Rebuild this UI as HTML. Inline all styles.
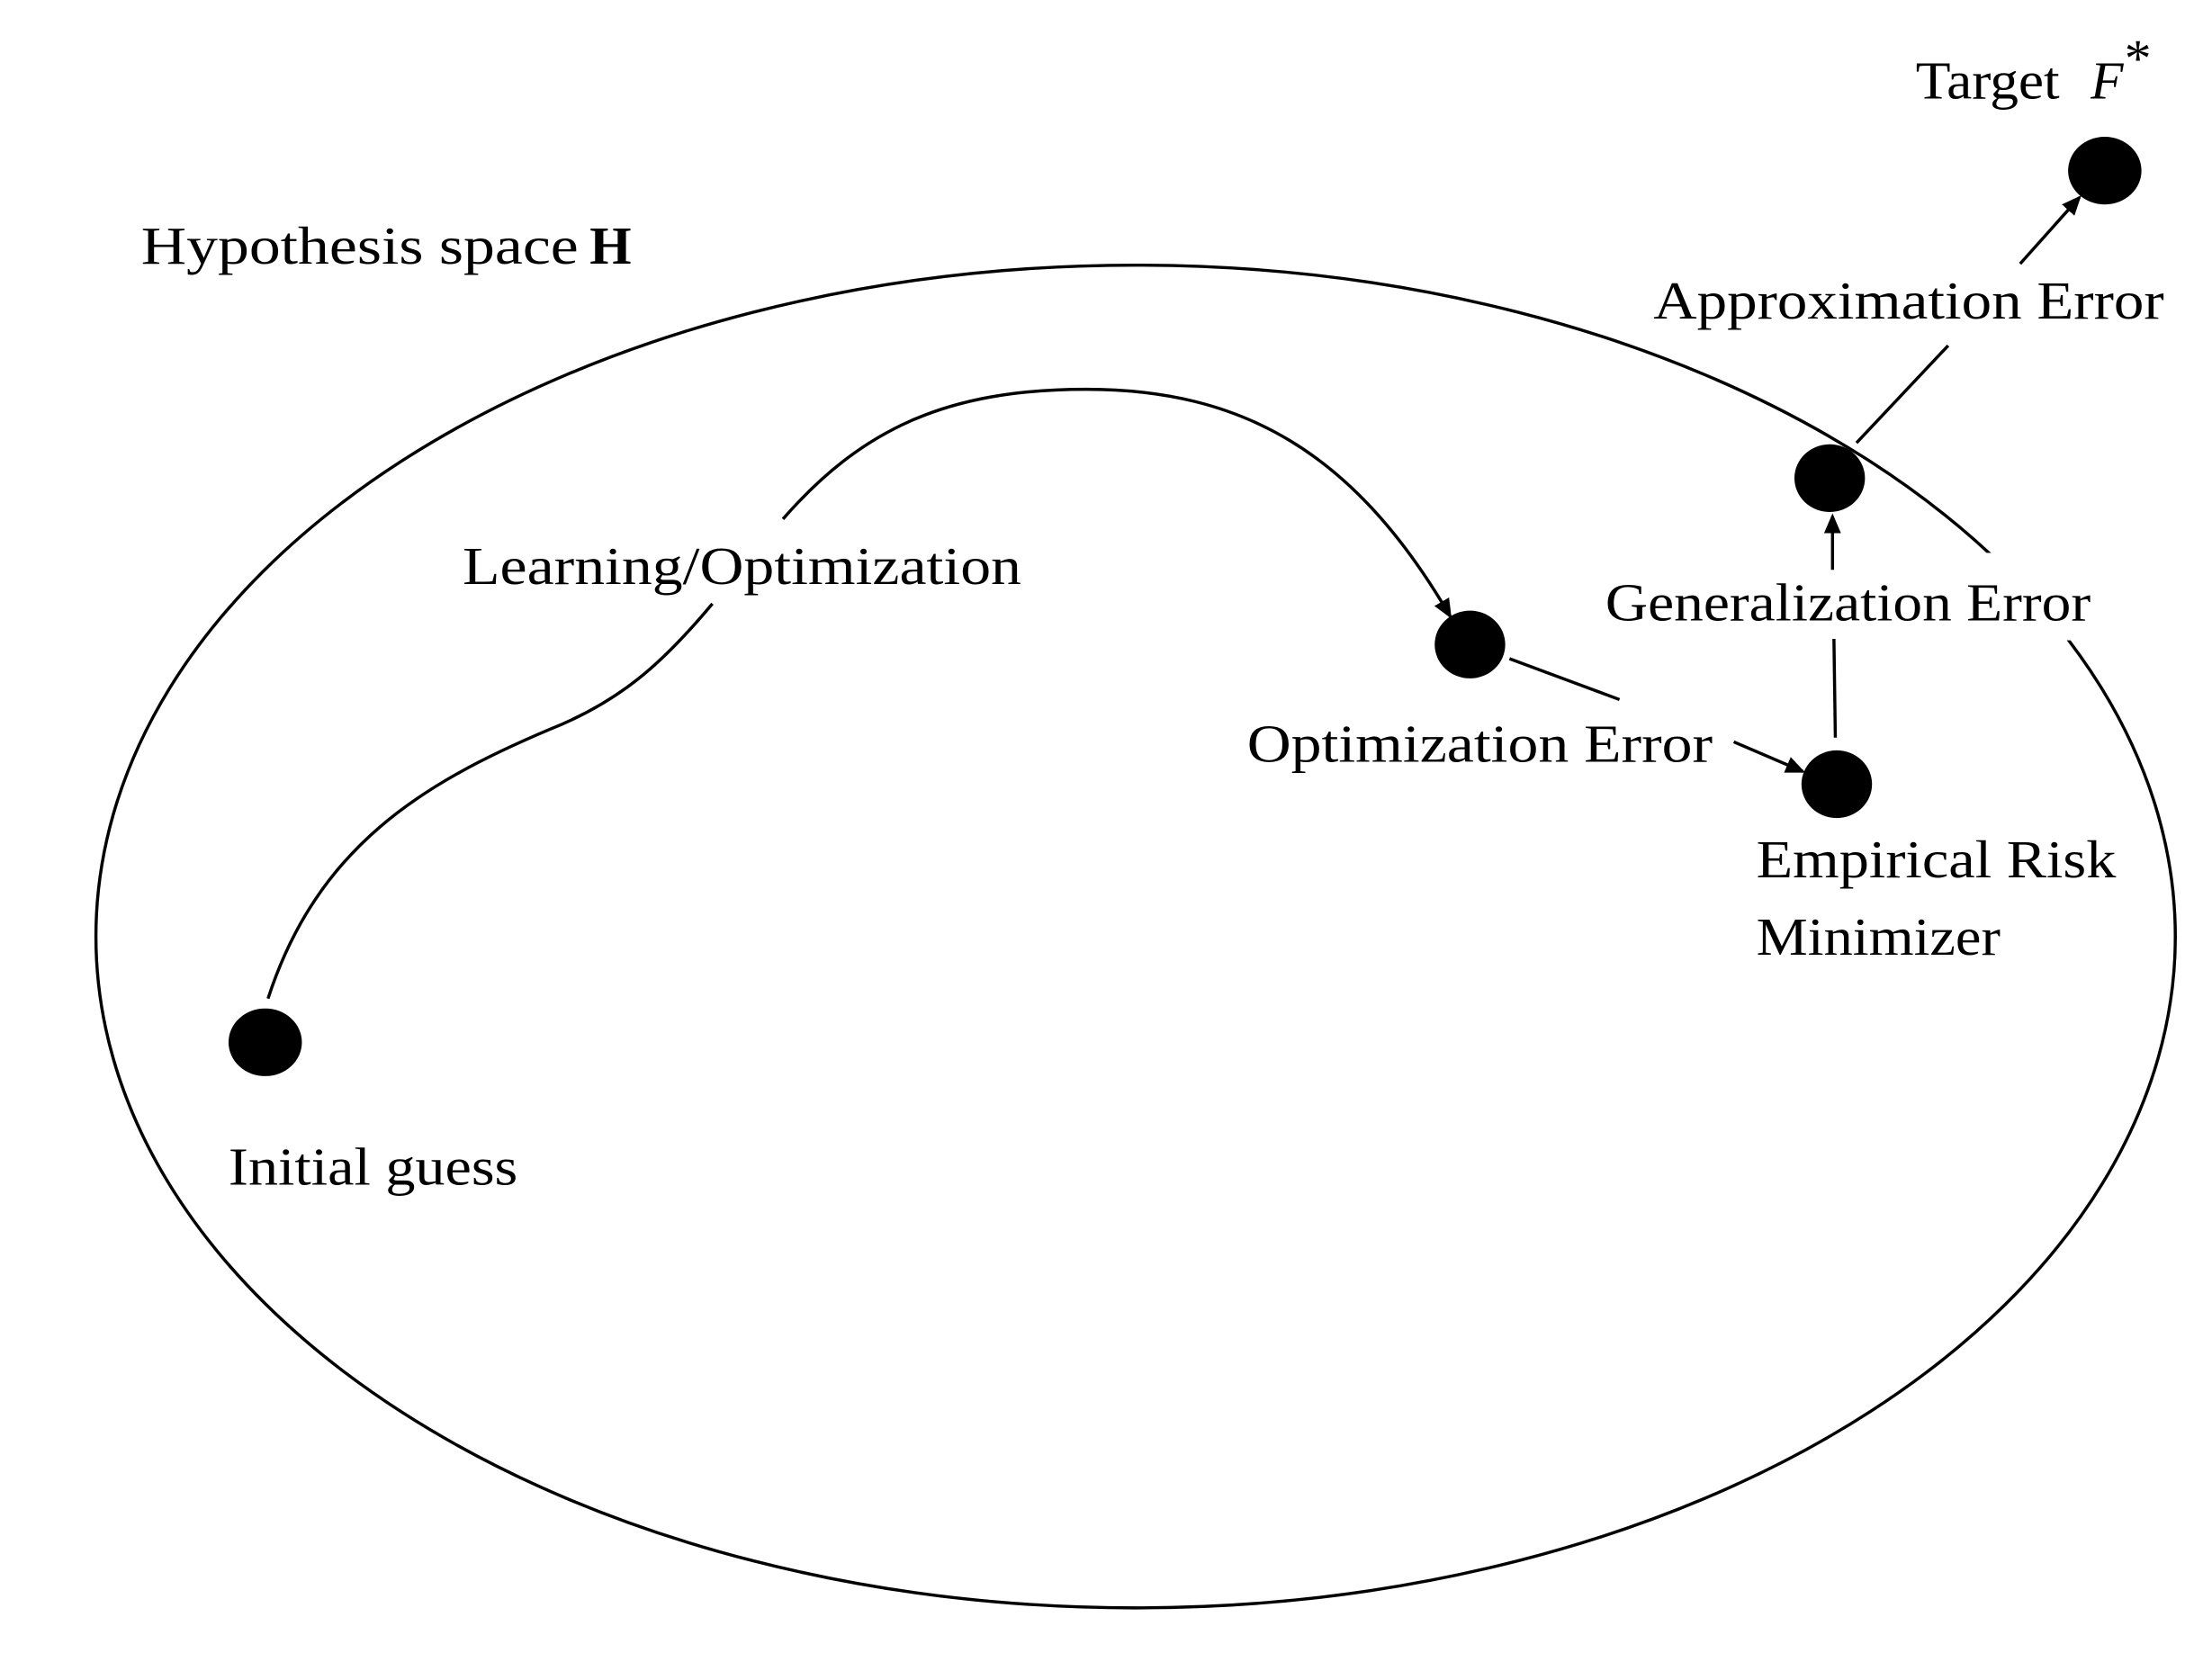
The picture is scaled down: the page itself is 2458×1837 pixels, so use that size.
<!DOCTYPE html>
<html><head><meta charset="utf-8"><style>
html,body{margin:0;padding:0;background:#fff;}
svg{display:block;}
text{font-family:"Liberation Serif",serif;font-size:38px;fill:#000;}
</style></head><body>
<svg width="2458" height="1837" viewBox="0 0 1568 1172" preserveAspectRatio="none" xmlns="http://www.w3.org/2000/svg">
<defs>
<marker id="a" markerWidth="14" markerHeight="12" refX="12" refY="6" orient="auto" markerUnits="userSpaceOnUse">
<path d="M0,0 L14,6 L0,12 z" fill="#000"/>
</marker>
</defs>
<ellipse cx="805" cy="664" rx="737" ry="476" fill="none" stroke="#000" stroke-width="2.2"/>
<rect x="1408" y="392" width="62" height="62" fill="#fff"/>
<text x="100" y="187" textLength="310" lengthAdjust="spacingAndGlyphs">Hypothesis space</text>
<text x="418" y="187" font-weight="bold">H</text>
<text x="1358" y="70" textLength="102" lengthAdjust="spacingAndGlyphs">Target</text>
<text x="1482" y="70" font-style="italic">F</text>
<text x="1506" y="54" font-size="24">*</text>
<ellipse cx="1492" cy="121" rx="26" ry="24" fill="#000"/>
<line x1="1432" y1="187" x2="1474" y2="140" stroke="#000" stroke-width="2.2" marker-end="url(#a)"/>
<text x="1172" y="226" textLength="362" lengthAdjust="spacingAndGlyphs">Approximation Error</text>
<line x1="1316" y1="314" x2="1381" y2="245" stroke="#000" stroke-width="2.2"/>
<ellipse cx="1297" cy="339" rx="25" ry="24" fill="#000"/>
<line x1="1299" y1="404" x2="1299" y2="366" stroke="#000" stroke-width="2.2" marker-end="url(#a)"/>
<text x="1138" y="440" textLength="344" lengthAdjust="spacingAndGlyphs">Generalization Error</text>
<line x1="1300" y1="453" x2="1301" y2="523" stroke="#000" stroke-width="2.2"/>
<ellipse cx="1302" cy="556" rx="25" ry="24" fill="#000"/>
<ellipse cx="1042" cy="457" rx="25" ry="24" fill="#000"/>
<line x1="1070" y1="467" x2="1148" y2="496" stroke="#000" stroke-width="2.2"/>
<line x1="1229" y1="526" x2="1278" y2="547" stroke="#000" stroke-width="2.2" marker-end="url(#a)"/>
<text x="884" y="540" textLength="330" lengthAdjust="spacingAndGlyphs">Optimization Error</text>
<text x="1245" y="622" textLength="255" lengthAdjust="spacingAndGlyphs">Empirical Risk</text>
<text x="1245" y="677" textLength="173" lengthAdjust="spacingAndGlyphs">Minimizer</text>
<ellipse cx="188" cy="739" rx="26" ry="24" fill="#000"/>
<text x="162" y="840" textLength="205" lengthAdjust="spacingAndGlyphs">Initial guess</text>
<path d="M190,708 C225,600 300,555 390,517 C440,497 470,470 505,428" fill="none" stroke="#000" stroke-width="2.2"/>
<path d="M555,368 C610,305 670,276 770,276 C880,276 960,320 1028,437" fill="none" stroke="#000" stroke-width="2.2" marker-end="url(#a)"/>
<text x="328" y="414" textLength="396" lengthAdjust="spacingAndGlyphs">Learning/Optimization</text>
</svg>
</body></html>
